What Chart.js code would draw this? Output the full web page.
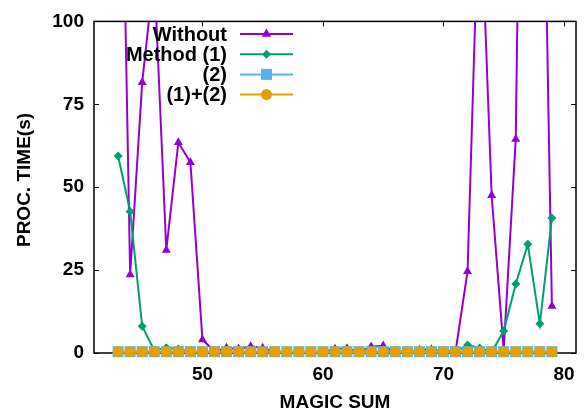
<!DOCTYPE html>
<html>
<head>
<meta charset="utf-8">
<title>Proc. time vs magic sum</title>
<script src="https://cdn.jsdelivr.net/npm/chart.js@4/dist/chart.umd.min.js"></script>
<style>
  html, body { margin: 0; padding: 0; background: #fff; }
  #wrap { width: 585px; height: 414px; }
</style>
</head>
<body>
<div id="wrap"><canvas id="chart" width="585" height="414"></canvas></div>
<script>
// Datos (tiempo de proceso en segundos)
const magicSum = [43, 44, 45, 46, 47, 48, 49, 50, 51, 52, 53, 54, 55, 56, 57, 58, 59, 60, 61,
                  62, 63, 64, 65, 66, 67, 68, 69, 70, 71, 72, 73, 74, 75, 76, 77, 78, 79];

const without = [220, 23.6, 81.6, 115, 31, 63.5, 57.5, 4.0, 0.5, 1.5, 1.2, 2.0, 1.5, 0.3, 0.3, 0.3, 0.3, 0.3, 1.2,
                 1.4, 0.3, 1.9, 2.2, 0.3, 0.3, 0.9, 1.1, 0.3, 0.3, 24.6, 145, 47.5, 0.8, 64.5, 330, 220, 14.1];

const method1 = [59.4, 42.7, 8.1, 0.8, 1.6, 1.2, 0.3, 0.3, 0.3, 0.3, 0.3, 0.3, 0.3, 0.3, 0.3, 0.3, 0.3, 0.3, 0.3,
                 0.3, 0.3, 0.3, 0.3, 0.8, 0.3, 0.3, 0.3, 0.8, 0.3, 2.4, 1.5, 0.3, 6.6, 20.8, 32.8, 8.8, 40.7];

const method2 = [0.4, 0.4, 0.4, 0.4, 0.4, 0.4, 0.4, 0.4, 0.4, 0.4, 0.4, 0.4, 0.4, 0.4, 0.4, 0.4, 0.4, 0.4, 0.4,
                 0.4, 0.4, 0.4, 0.4, 0.4, 0.4, 0.4, 0.4, 0.4, 0.4, 0.4, 0.4, 0.4, 0.4, 0.4, 0.4, 0.4, 0.4];

const method12 = [0.4, 0.4, 0.4, 0.4, 0.4, 0.4, 0.4, 0.4, 0.4, 0.4, 0.4, 0.4, 0.4, 0.4, 0.4, 0.4, 0.4, 0.4, 0.4,
                  0.4, 0.4, 0.4, 0.4, 0.4, 0.4, 0.4, 0.4, 0.4, 0.4, 0.4, 0.4, 0.4, 0.4, 0.4, 0.4, 0.4, 0.4];

const seriesNames = ['Without', 'Method (1)', '(2)', '(1)+(2)'];
const xTicks = [50, 60, 70, 80];
const yTicks = [0, 25, 50, 75, 100];

// Colores por defecto de gnuplot
const PURPLE = '#9400d3'; const GREEN = '#009e73'; const SKY = '#56b4e9'; const ORANGE = '#e69f00';
const FONT_FAMILY = '"Liberation Sans", Arial, Helvetica, sans-serif';
const FONT = { family: FONT_FAMILY, size: 19, weight: 'bold' };
const LEGEND_FONT = `bold 20px ${FONT_FAMILY}`;

function pts(values) {
    return magicSum.map((x, i) => ({ x, y: values[i] }));
}

// Dibuja un marcador (triángulo, rombo, cuadrado o círculo)
function marker(ctx, style, x, y, r, color) {
    ctx.save();
    ctx.fillStyle = color;
    ctx.beginPath();
    if (style === 'triangle') {
        ctx.moveTo(x, y - r);
        ctx.lineTo(x + r * 0.87, y + r * 0.5);
        ctx.lineTo(x - r * 0.87, y + r * 0.5);
    } else if (style === 'rectRot') {
        ctx.moveTo(x, y - r); ctx.lineTo(x + r, y); ctx.lineTo(x, y + r); ctx.lineTo(x - r, y);
    } else if (style === 'rect') {
        ctx.rect(x - r, y - r, 2 * r, 2 * r);
    } else {
        ctx.arc(x, y, r, 0, Math.PI * 2);
    }
    ctx.closePath();
    ctx.fill();
    ctx.restore();
}

const LEGEND_STYLE = [
    { color: PURPLE, style: 'triangle', r: 5.5 },
    { color: GREEN, style: 'rectRot', r: 4.5 },
    { color: SKY, style: 'rect', r: 5.5 },
    { color: ORANGE, style: 'circle', r: 5.5 },
];

// Marco, marcas de los ejes (hacia dentro, como gnuplot), título Y y leyenda
const gnuplotFrame = {
    id: 'gnuplotFrame',
    afterDraw(chart) {
        const { ctx, chartArea: a, scales: { x, y } } = chart;
        ctx.save();
        ctx.strokeStyle = '#000';
        ctx.lineWidth = 1;
        xTicks.forEach((v) => {
            const px = Math.round(x.getPixelForValue(v)) + 0.5;
            ctx.beginPath();
            ctx.moveTo(px, a.top); ctx.lineTo(px, a.top + 5);
            ctx.stroke();
        });
        yTicks.forEach((v) => {
            const py = Math.round(y.getPixelForValue(v)) + 0.5;
            ctx.beginPath();
            ctx.moveTo(a.left, py); ctx.lineTo(a.left + 5, py);
            ctx.moveTo(a.right, py); ctx.lineTo(a.right - 5, py);
            ctx.stroke();
        });
        ctx.restore();

        // Título del eje Y (girado)
        ctx.save();
        ctx.font = `bold 19px ${FONT_FAMILY}`;
        ctx.fillStyle = '#000';
        ctx.textAlign = 'center';
        ctx.textBaseline = 'middle';
        ctx.translate(25, 180);
        ctx.rotate(-Math.PI / 2);
        ctx.fillText('PROC. TIME(s)', 0, 0);
        ctx.restore();

        // Leyenda: texto alineado a la derecha y muestra de línea
        ctx.save();
        ctx.font = LEGEND_FONT;
        ctx.textAlign = 'right';
        ctx.textBaseline = 'middle';
        seriesNames.forEach((name, i) => {
            const yy = 34 + i * 20.2;
            const st = LEGEND_STYLE[i];
            ctx.fillStyle = '#000';
            ctx.fillText(name, 227, yy + 1);
            ctx.strokeStyle = st.color;
            ctx.lineWidth = 2;
            ctx.beginPath();
            ctx.moveTo(240, yy); ctx.lineTo(293, yy);
            ctx.stroke();
            marker(ctx, st.style, 266.5, yy, st.r, st.color);
        });
        ctx.restore();
    },
    // El marco va debajo de las series (los puntos en 0 lo tapan)
    beforeDatasetsDraw(chart) {
        const { ctx, chartArea: a } = chart;
        ctx.save();
        ctx.strokeStyle = '#000';
        ctx.lineWidth = 1.5;
        ctx.strokeRect(a.left, a.top, a.right - a.left, a.bottom - a.top);
        ctx.restore();
    }
};

function dataset(label, values, color, style, radius, order, clip) {
    return {
        label, data: pts(values), borderColor: color, backgroundColor: color,
        borderWidth: 2, pointStyle: style, pointRadius: radius, pointBorderWidth: 0,
        pointBackgroundColor: color, tension: 0, order, clip
    };
}

new Chart(document.getElementById('chart'), {
    type: 'line',
    data: {
        datasets: [
            dataset(seriesNames[0], without, PURPLE, 'triangle', 5.2, 4, undefined),
            dataset(seriesNames[1], method1, GREEN, 'rectRot', 4.5, 3, undefined),
            dataset(seriesNames[2], method2, SKY, 'rect', 7.8, 2, false),
            dataset(seriesNames[3], method12, ORANGE, 'circle', 5.5, 1, false),
        ]
    },
    options: {
        responsive: false,
        animation: false,
        devicePixelRatio: 1,
        layout: { padding: { top: 19, right: 9, left: 0, bottom: 0 } },
        plugins: { legend: { display: false }, tooltip: { enabled: false } },
        scales: {
            x: {
                type: 'linear', min: 41, max: 81,
                afterBuildTicks: (s) => { s.ticks = xTicks.map((value) => ({ value })); },
                afterFit: (s) => { s.height = 61; },
                grid: { display: false, drawTicks: false },
                border: { display: false },
                ticks: { font: FONT, color: '#000', padding: 10, maxRotation: 0 },
                title: { display: true, text: 'MAGIC SUM', font: FONT, color: '#000', padding: { top: 0, bottom: 0 } }
            },
            y: {
                min: 0, max: 100,
                afterBuildTicks: (s) => { s.ticks = yTicks.map((value) => ({ value })); },
                afterFit: (s) => { s.width = 94; },
                grid: { display: false, drawTicks: false },
                border: { display: false },
                ticks: { font: FONT, color: '#000', padding: 10 }
            }
        }
    },
    plugins: [gnuplotFrame]
});
</script>
</body>
</html>
